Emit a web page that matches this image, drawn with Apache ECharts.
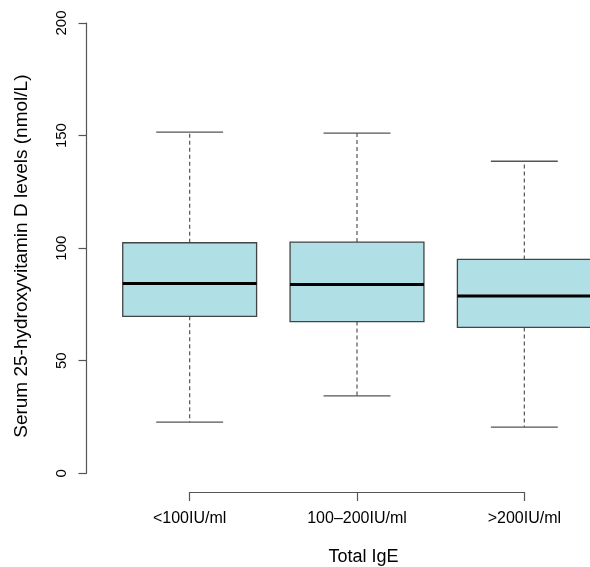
<!DOCTYPE html>
<html>
<head>
<meta charset="utf-8">
<script src="https://cdn.jsdelivr.net/npm/echarts@6/dist/echarts.min.js"></script>
<style>
  html, body { margin: 0; padding: 0; background: #fff; overflow: hidden; }
  /* plot region runs past the right edge of the window, as in the original */
  #chart { width: 608px; height: 567px; }
</style>
</head>
<body>
<div id="chart"></div>
<script>
// categories of total IgE
var categories = ['<100IU/ml', '100–200IU/ml', '>200IU/ml'];
// box statistics (nmol/L)
var lowWhisker = [22.7, 34.4, 20.5];
var q1 = [69.7, 67.4, 64.8];
var median = [84.3, 83.8, 78.8];
var q3 = [102.4, 102.7, 95.0];
var highWhisker = [151.5, 151.1, 138.6];
var yTicks = [0, 50, 100, 150, 200];

var font = "'Liberation Sans', Arial, Helvetica, sans-serif";
var lineCol = '#555';

var boxData = categories.map(function (c, i) {
  return [i, lowWhisker[i], q1[i], median[i], q3[i], highWhisker[i]];
});

var chart = echarts.init(document.getElementById('chart'), null, { renderer: 'canvas' });

function renderBox(params, api) {
  var idx = api.value(0);
  var band = api.size([1, 0])[0];
  var half = band * 0.4;
  var cap = band * 0.2;
  var pLow = api.coord([idx, api.value(1)]);
  var pQ1 = api.coord([idx, api.value(2)]);
  var pMed = api.coord([idx, api.value(3)]);
  var pQ3 = api.coord([idx, api.value(4)]);
  var pHigh = api.coord([idx, api.value(5)]);
  var x = pMed[0];
  var dashStyle = { stroke: lineCol, lineWidth: 1.2, lineDash: [4, 3] };
  var solid = { stroke: lineCol, lineWidth: 1.3 };
  return {
    type: 'group',
    children: [
      { type: 'line', shape: { x1: x, y1: pQ3[1], x2: x, y2: pHigh[1] }, style: dashStyle },
      { type: 'line', shape: { x1: x, y1: pQ1[1], x2: x, y2: pLow[1] }, style: dashStyle },
      { type: 'line', shape: { x1: x - cap, y1: pHigh[1], x2: x + cap, y2: pHigh[1] }, style: solid },
      { type: 'line', shape: { x1: x - cap, y1: pLow[1], x2: x + cap, y2: pLow[1] }, style: solid },
      {
        type: 'rect',
        shape: { x: x - half, y: pQ3[1], width: half * 2, height: pQ1[1] - pQ3[1] },
        style: { fill: '#b0dfe5', stroke: '#444', lineWidth: 1.3 }
      },
      { type: 'line', shape: { x1: x - half, y1: pMed[1], x2: x + half, y2: pMed[1] }, style: { stroke: '#000', lineWidth: 3 } }
    ]
  };
}

chart.setOption({
  animation: false,
  grid: [
    { left: 106, right: 0, top: 23, bottom: 93.7, outerBoundsMode: 'none' },
    // only carries the short x axis line between first and last tick
    { left: 189.7, right: 83.5, top: 480, bottom: 75, outerBoundsMode: 'none' }
  ],
  xAxis: [
    {
      type: 'category',
      gridIndex: 0,
      data: categories,
      boundaryGap: true,
      axisLine: { show: false },
      axisTick: { show: false },
      axisLabel: { margin: 37, fontSize: 16, color: '#000', fontFamily: font },
      name: 'Total IgE',
      nameLocation: 'middle',
      nameGap: 75,
      nameTextStyle: { fontSize: 18, color: '#000', fontFamily: font, padding: [0, 0, 0, 13] }
    },
    {
      type: 'value',
      gridIndex: 1,
      min: 0,
      max: categories.length - 1,
      interval: 1,
      axisLine: { show: true, lineStyle: { color: lineCol, width: 1.2 } },
      axisTick: { show: true, length: 9, lineStyle: { color: lineCol, width: 1.2 } },
      axisLabel: { show: false },
      splitLine: { show: false }
    }
  ],
  yAxis: [
    {
      type: 'value',
      gridIndex: 0,
      min: yTicks[0],
      max: yTicks[yTicks.length - 1],
      interval: yTicks[1] - yTicks[0],
      offset: 19.5,
      axisLine: { show: true, lineStyle: { color: lineCol, width: 1.2 } },
      axisTick: { show: true, length: 8, lineStyle: { color: lineCol, width: 1.2 } },
      axisLabel: { rotate: 90, margin: 17, fontSize: 15, color: '#000', fontFamily: font },
      splitLine: { show: false },
      name: 'Serum 25-hydroxyvitamin D levels (nmol/L)',
      nameLocation: 'middle',
      nameRotate: 90,
      nameGap: 55,
      nameTextStyle: { fontSize: 19, color: '#000', fontFamily: font, padding: [0, 16, 0, 0] }
    },
    { type: 'value', gridIndex: 1, show: false }
  ],
  series: [
    {
      type: 'custom',
      xAxisIndex: 0,
      yAxisIndex: 0,
      clip: false,
      renderItem: renderBox,
      encode: { x: 0, y: [1, 2, 3, 4, 5] },
      data: boxData
    }
  ]
});
</script>
</body>
</html>
